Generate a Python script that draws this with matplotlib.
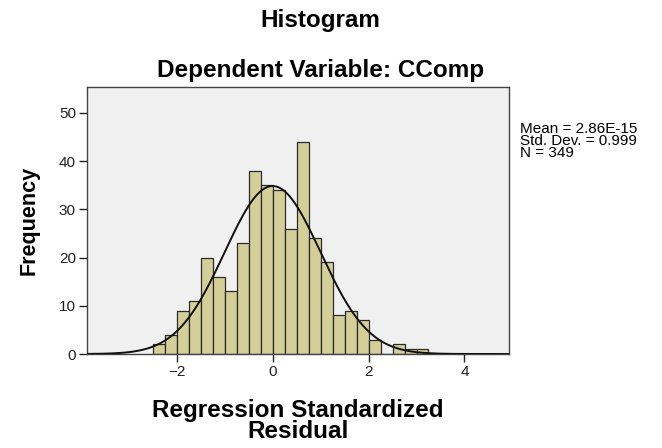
import matplotlib
matplotlib.use('Agg')
import matplotlib.pyplot as plt
import numpy as np

# histogram of regression standardized residuals (bin width 0.25)
bin_edges = np.arange(-2.5, 3.25 + 0.001, 0.25)
counts = [2, 4, 9, 11, 20, 16, 13, 23, 38, 35, 34, 26, 44,
          24, 19, 8, 9, 7, 3, 0, 2, 1, 1]
mean = 2.86e-15
std = 0.999
n = 349
xticks = [-2, 0, 2, 4]
yticks = [0, 10, 20, 30, 40, 50]

plt.rcParams['font.family'] = ['Liberation Sans', 'DejaVu Sans']

fig = plt.figure(figsize=(6.62, 4.48), dpi=100)
ax = fig.add_axes([0.1314, 0.2098, 0.6376, 0.5962])
ax.set_facecolor('#F0F0F0')

widths = np.diff(bin_edges)
ax.bar(bin_edges[:-1], counts, width=widths, align='edge',
       color='#D4CF99', edgecolor='#2a2a2a', linewidth=0.9, zorder=2)

xs = np.linspace(-3.87, 4.93, 400)
curve = n * 0.25 / (std * np.sqrt(2 * np.pi)) * np.exp(-0.5 * ((xs - mean) / std) ** 2)
ax.plot(xs, curve, color='#111111', linewidth=1.4, zorder=3)

ax.set_xlim(-3.87, 4.93)
ax.set_ylim(0, 55.4)
ax.set_xticks(xticks)
ax.set_yticks(yticks)
ax.tick_params(axis='both', direction='out', length=6, width=1, pad=2,
               labelsize=11, colors='#222222')
for s in ax.spines.values():
    s.set_color('#444444')
    s.set_linewidth(1)

ax.set_ylabel('Frequency', fontsize=15.5, fontweight='bold')
ax.yaxis.set_label_coords(-0.112, 0.5)
ax.set_xlabel('Regression Standardized\nResidual', fontsize=17.5, fontweight='bold',
              linespacing=0.85)
ax.xaxis.set_label_coords(0.5, -0.17)

fig.text(0.484, 0.94, 'Histogram', ha='center', va='baseline',
         fontsize=17.5, fontweight='bold')
fig.text(0.484, 0.829, 'Dependent Variable: CComp', ha='center', va='baseline',
         fontsize=17.5, fontweight='bold')

fig.text(0.785, 0.727, 'Mean = 2.86E-15\nStd. Dev. = 0.999\nN = 349',
         ha='left', va='top', fontsize=11, linespacing=0.8)

fig.savefig('out.png', dpi=100)
